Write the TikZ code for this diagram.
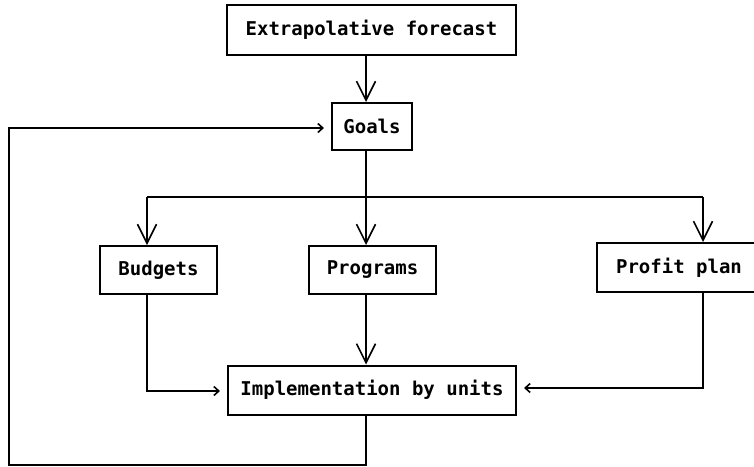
\documentclass[tikz,border=0pt]{standalone}
\usepackage{fontspec}
\setmonofont{DejaVu Sans Mono}
\usetikzlibrary{arrows.meta}
\begin{document}
\begin{tikzpicture}[x=1pt,y=-1pt,
  box/.style={draw, line width=2pt, inner sep=0pt, font=\ttfamily\bfseries\fontsize{19}{21}\selectfont},
  link/.style={line width=1.8pt},
  bigarrow/.style={link, -{Straight Barb[length=19pt,width=19pt,line width=1.6pt]}},
  smallarrow/.style={link, -{Straight Barb[length=5pt,width=9pt,line width=1.6pt]}, shorten >=7pt}]
  \clip (0,0) rectangle (754,466);
  \fill[white] (0,0) rectangle (754,466);

  % boxes
  \node[box, minimum width=289pt, minimum height=50pt] (forecast) at (371.5,30) {Extrapolative forecast};
  \node[box, minimum width=80pt, minimum height=47pt] (goals) at (372,126.5) {Goals};
  \node[box, minimum width=117pt, minimum height=48pt] (budgets) at (158.5,270) {Budgets};
  \node[box, minimum width=127pt, minimum height=48pt] (programs) at (372.5,270) {Programs};
  \node[box, minimum width=164pt, minimum height=49pt] (profit) at (679,267.5) {Profit plan};
  \node[box, minimum width=288pt, minimum height=49pt] (impl) at (372,390) {Implementation by units};

  % routing points
  \coordinate (trunk) at (366,197);
  \coordinate (lbranch) at (147,197);
  \coordinate (rbranch) at (703,197);
  \coordinate (bturn) at (147,391);
  \coordinate (pturn) at (703,388);
  \coordinate (loopbr) at (366,465);
  \coordinate (loopbl) at (9,465);
  \coordinate (looptl) at (9,128);

  % forecast to goals
  \draw[bigarrow] (forecast.south -| trunk) -- (goals.north -| trunk);
  % goals fan-out
  \draw[link] (goals.south -| trunk) -- (trunk);
  \draw[link] (lbranch) -- (rbranch);
  \draw[bigarrow] (lbranch) -- (budgets.north -| lbranch);
  \draw[bigarrow] (trunk) -- (programs.north -| trunk);
  \draw[bigarrow] (rbranch) -- (profit.north -| rbranch);
  % plans into implementation
  \draw[smallarrow] (budgets.south -| bturn) -- (bturn) -- (impl.west |- bturn);
  \draw[bigarrow] (programs.south -| trunk) -- (impl.north -| trunk);
  \draw[smallarrow] (profit.south -| pturn) -- (pturn) -- (impl.east |- pturn);
  % feedback loop
  \draw[smallarrow] (impl.south -| loopbr) -- (loopbr) -- (loopbl) -- (looptl) -- (goals.west |- looptl);
\end{tikzpicture}
\end{document}
